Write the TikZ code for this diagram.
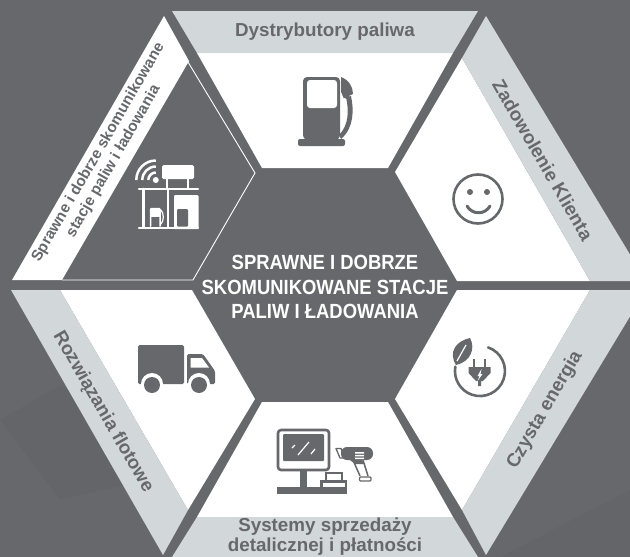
\documentclass[tikz,border=0pt]{standalone}
\usepackage{fontspec}
\setmainfont{Liberation Sans}
\definecolor{bgc}{HTML}{67686B}
\definecolor{bandc}{HTML}{D2D8DA}
\definecolor{txtc}{HTML}{67686B}
\tikzset{
  bandlabel/.style={font=\bfseries\fontsize{18.8}{19}\selectfont,text=txtc,align=center,inner sep=0pt},
  icon/.style={fill=txtc,draw=none},
  iconline/.style={draw=txtc,line width=2.6pt,line cap=round,line join=round},
  wicon/.style={fill=white,draw=none},
  wline/.style={draw=white,line width=2.5pt,line cap=round,line join=round},
}
\begin{document}
\begin{tikzpicture}[x=1pt,y=-1pt]
\useasboundingbox (0,0) rectangle (630,557);
\clip (0,0) rectangle (630,557);
\fill[bgc] (0,0) rectangle (630,557);
% faint background facets
\fill[black,opacity=.02] (0,420) -- (60,385) -- (190,470) -- (60,500) -- cycle;
\fill[black,opacity=.02] (500,557) -- (630,490) -- (630,557) -- cycle;
% top segment
\fill[white] (197,53) -- (453,53) -- (388,168) -- (262,168) -- cycle;
\fill[bandc] (172,11) -- (478,11) -- (453,53) -- (197,53) -- cycle;
% upper right
\fill[white] (462,58) -- (590,281) -- (457,281) -- (395,172) -- cycle;
\fill[bandc] (486,16) -- (646,281) -- (590,281) -- (462,58) -- cycle;
% lower right
\fill[white] (457,290) -- (590,290) -- (462,510) -- (395,399) -- cycle;
\fill[bandc] (590,290) -- (646,290) -- (486,555) -- (462,510) -- cycle;
% bottom
\fill[white] (262,402) -- (388,402) -- (453,517) -- (197,517) -- cycle;
\fill[bandc] (197,517) -- (453,517) -- (478,557) -- (172,557) -- cycle;
% lower left
\fill[white] (60,290) -- (192,290) -- (255,399) -- (188,510) -- cycle;
\fill[bandc] (11,290) -- (60,290) -- (188,510) -- (163,555) -- cycle;
% upper left (selected)
\fill[white] (164,16) -- (189,61) -- (62,280) -- (12,280) -- cycle;
\draw[white,line width=.9pt] (188,62) -- (255,173) -- (193,280) -- (62,280);
% pump
\fill[icon,rounded corners=4pt] (303,139.5) -- (303,77) -- (340,77) -- (340,139.5) -- cycle;
\fill[icon,rounded corners=2pt] (298,139) rectangle (345,146);
\fill[wicon,rounded corners=3pt] (307,80) rectangle (337,108);
\fill[icon] (341,77) .. controls (349,80) and (353,87) .. (353,94) -- (344,98) -- (341,92) -- cycle;
\fill[icon] (346,95) circle (3.6);
\fill[icon] (346,97) .. controls (349,110) and (349,125) .. (339,135) -- (341,139) .. controls (354,128) and (354,110) .. (351,96) -- cycle;
% smile
\draw[iconline] (478,199) circle (24.5);
\fill[icon] (470,192) circle (3);
\fill[icon] (487,192) circle (3);
\draw[iconline,line width=3pt] (467,206) .. controls (472,215) and (485,215) .. (490,206);
% plug
\draw[iconline,line cap=round] (488.1,347.4) arc[start angle=-71,end angle=190,radius=25];
\fill[icon] (470,338) .. controls (476,349) and (470,362) .. (456,365) .. controls (448,352) and (456,341) .. (470,338) -- cycle;
\draw[white,line width=1.2pt] (457,361) -- (466,345);
\draw[icon,draw=txtc,line width=2.8pt] (474,359) -- (474,368) (485,359) -- (485,368);
\fill[icon] (468.5,367) -- (490.5,367) -- (490.5,373) -- (483,381) -- (481,381) -- (481,386) -- (478,386) -- (478,381) -- (476,381) -- (468.5,373) -- cycle;
\fill[white] (481.5,369) -- (477.5,376) -- (479.5,376) -- (477.5,381) -- (482.5,374) -- (480.5,374) -- cycle;
% truck
\fill[icon,rounded corners=1.5pt] (138,345) rectangle (184,384);
\fill[icon,rounded corners=1.5pt] (187,384) -- (187,354) -- (203,354) -- (215,371) -- (215,384) -- cycle;
\fill[white] (190.5,358) -- (202,358) -- (209,367.5) -- (190.5,367.5) -- cycle;
\fill[white] (152,384) circle (11) (199,384) circle (11);
\fill[icon] (152,385) circle (8) (199,385) circle (8);
% POS
\draw[iconline,rounded corners=3pt] (278,430) rectangle (329,470);
\fill[icon,rounded corners=1pt] (283,434) rectangle (324,461);
\draw[white,line width=1.2pt] (292,448) -- (295,445) (298,455) -- (309,442) (311,454) -- (315,449);
\fill[icon] (300,470) rectangle (307,488);
\fill[icon] (277,487) rectangle (347,494);
\fill[icon] (320,480) rectangle (347,488);
\fill[white] (322.5,483) rectangle (344.5,487);
\draw[txtc,line width=1.6pt,fill=white] (326,480) -- (326,473) -- (342,473) -- (342,480);
% scanner
\fill[icon,rounded corners=6pt] (341,447) -- (373,447) -- (373,460) -- (341,460) -- cycle;
\draw[txtc,line width=1.3pt,line join=round] (336,448.5) -- (341,448.5) -- (344,458) -- (340,458) -- cycle;
\fill[white] (355,452) rectangle (364,453.5) (355,454.8) rectangle (364,456.3) (355,457.6) rectangle (364,459);
\draw[txtc,line width=1.5pt] (353,460) -- (360,476) (363,460) -- (368,476);
\fill[txtc] (350,460) -- (362,460) -- (364,464) -- (355,464) -- cycle;
\draw[txtc,line width=1.4pt,rounded corners=1pt] (359.5,477) rectangle (371,481);
% station
\fill[wicon,rounded corners=1.5pt] (162,165) rectangle (194,179);
\draw[wline,line cap=butt] (167,179) -- (167,188) (188,179) -- (188,188);
\draw[wline] (139,189) -- (198,189);
\draw[wline] (143.5,189) -- (143.5,227) (168,189) -- (168,227);
\draw[wline] (139,228) -- (198,228);
\fill[wicon,rounded corners=1pt] (174,195) rectangle (198.5,229);
\fill[bgc,rounded corners=1pt] (177,209) rectangle (188,226.5);
\draw[wline,line width=1.5pt,rounded corners=1pt] (150.5,226) -- (150.5,208.5) -- (160,208.5) -- (160,226);
\fill[wicon] (151,209) rectangle (159.5,217);
\draw[wline,line width=1.2pt] (161,210) .. controls (164,213) and (164,221) .. (161,224);
\fill[wicon] (155.8,180) circle (3);
\draw[wline,line cap=butt] (155.8,172.5) arc[start angle=-90,end angle=-180,radius=7.5];
\draw[wline,line cap=butt] (155.8,166.5) arc[start angle=-90,end angle=-180,radius=13.5];
\draw[wline,line cap=butt] (155.8,160.5) arc[start angle=-90,end angle=-180,radius=19.5];
% labels
\node[bandlabel] (ltop) at (325,32) {Dystrybutory paliwa};
\node[bandlabel,rotate=-60] (lur) at (543,160) {Zadowolenie Klienta};
\node[bandlabel,rotate=60] (llr) at (545,410) {Czysta energia};
\node[bandlabel,rotate=-60] (lll) at (103,412) {Rozwiązania flotowe};
\node[bandlabel,rotate=60,font=\bfseries\fontsize{15.3}{17.5}\selectfont] (lul) at (106,157) {Sprawne i dobrze skomunikowane\\stacje paliw i ładowania};
\node[bandlabel,font=\bfseries\fontsize{18.8}{20}\selectfont] (lbot) at (325,537) {Systemy sprzedaży\\detalicznej i płatności};
\node[align=center,inner sep=0pt,text=white,xscale=.9,font=\bfseries\fontsize{20.5}{24.5}\selectfont] (lcenter) at (325,287) {SPRAWNE I DOBRZE\\SKOMUNIKOWANE STACJE\\PALIW I ŁADOWANIA};
\end{tikzpicture}
\end{document}
